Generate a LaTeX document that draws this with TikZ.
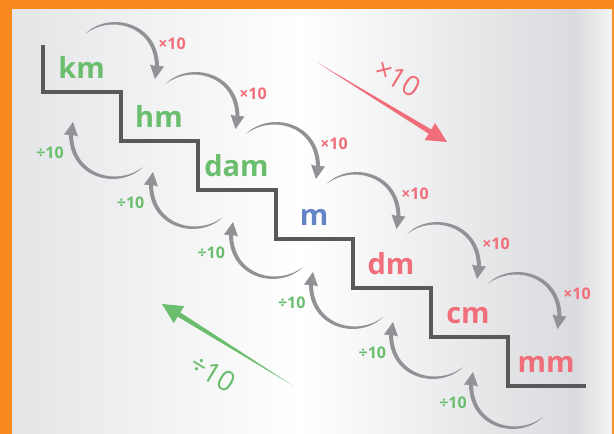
\documentclass[tikz,border=0pt]{standalone}
\usepackage{fontspec}
\setmainfont{Open Sans}
\usetikzlibrary{calc}

\definecolor{frameorange}{RGB}{247,137,31}
\definecolor{panelgrey}{RGB}{228,229,231}
\definecolor{paneldark}{RGB}{218,219,222}
\definecolor{paneledge}{RGB}{244,244,245}
\definecolor{stairgrey}{RGB}{88,89,91}
\definecolor{arcgrey}{RGB}{145,146,150}
\definecolor{unitgreen}{RGB}{106,190,110}
\definecolor{unitblue}{RGB}{99,132,198}
\definecolor{unitred}{RGB}{240,110,122}

\tikzset{
  unit/.style={font=\bfseries\fontsize{29}{29}\selectfont, anchor=base, inner sep=0pt},
  factor/.style={font=\bfseries\fontsize{16}{16}\selectfont, anchor=base, inner sep=0pt},
  bigfactor/.style={font=\fontsize{28}{28}\selectfont, inner sep=0pt, rotate=-31},
}

\begin{document}
\begin{tikzpicture}[x=1pt,y=-1pt]
        \useasboundingbox (0,0) rectangle (614,434);
        % tapered curved arrow, tip at the origin
        \def\arcshape{(-70,-45) .. controls (-47,-68) and (3,-58) .. (4,-13)
            -- (9,-12.5) -- (0,0) -- (-5,-14.5) -- (0,-13)
            .. controls (-1,-55) and (-46,-64) .. (-70,-45) -- cycle}
        % frame and panel
        \fill[frameorange] (0,0) rectangle (614,434);
        \shade[left color=panelgrey, right color=white] (12,9) rectangle (300,434);
        \shade[left color=white, right color=paneldark] (299.5,9) rectangle (575,434);
        \shade[left color=paneldark, right color=paneledge] (574.5,9) rectangle (612,434);
        % the staircase
        \draw[stairgrey, line width=4pt] (43,45) |- (120.5,92) |- (198,141) |- (275.5,190)
            |- (353,239) |- (430.5,288) |- (508,337) |- (585.5,386);
        \node[unit, unitgreen] (km) at (81.5,78) {km};
        \node[unit, unitgreen] (hm) at (159,127) {hm};
        \node[unit, unitgreen] (dam) at (236.5,176) {dam};
        \node[unit, unitblue] (m) at (314,225) {m};
        \node[unit, unitred] (dm) at (391,274) {dm};
        \node[unit, unitred] (cm) at (468,323) {cm};
        \node[unit, unitred] (mm) at (546,372) {mm};
        % steps down (x10) and up (/10)
        \foreach \i in {0,...,5} {
            \begin{scope}[shift={(155+80.5*\i,79+50*\i)}]
                \fill[arcgrey] \arcshape;
            \end{scope}
            \begin{scope}[shift={(73+80*\i,122+50*\i)}, rotate=180]
                \fill[arcgrey] \arcshape;
            \end{scope}
            \node[factor, unitred] (times\i) at (172+81*\i,49+50*\i) {×10};
            \node[factor, unitgreen] (div\i) at (50+80.6*\i,158+50*\i) {÷10};
        }
        % big arrows
        \coordinate (redtail) at (318,63);
        \coordinate (redtip) at (447,142);
        \coordinate (redbase) at ($(redtip)!20pt!(redtail)$);
        \fill[unitred] (redtail) -- ($(redbase)!2.5pt!90:(redtip)$) -- ($(redbase)!10pt!90:(redtip)$)
            -- (redtip) -- ($(redbase)!10pt!-90:(redtip)$) -- ($(redbase)!2.5pt!-90:(redtip)$) -- cycle;
        \node[bigfactor, unitred] (bigtimes) at (398,78) {×10};
        \coordinate (greentail) at (292,385);
        \coordinate (greentip) at (162,304);
        \coordinate (greenbase) at ($(greentip)!20pt!(greentail)$);
        \fill[unitgreen] (greentail) -- ($(greenbase)!2.5pt!90:(greentip)$) -- ($(greenbase)!10pt!90:(greentip)$)
            -- (greentip) -- ($(greenbase)!10pt!-90:(greentip)$) -- ($(greenbase)!2.5pt!-90:(greentip)$) -- cycle;
        \node[bigfactor, unitgreen] (bigdiv) at (213,373) {÷10};
    \end{tikzpicture}
\end{document}
